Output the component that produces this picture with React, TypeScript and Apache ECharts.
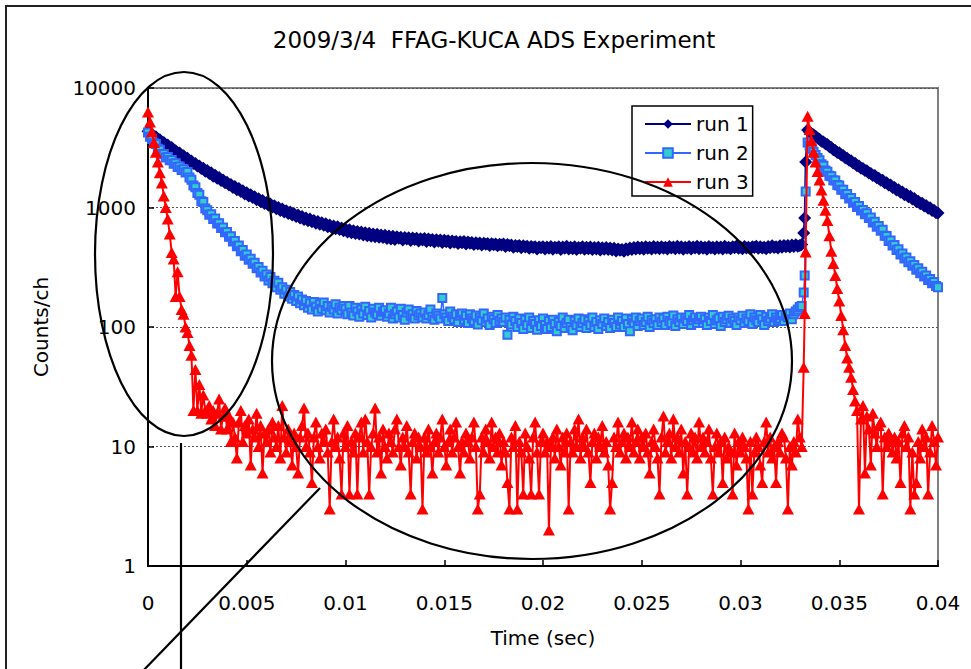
import React, { useEffect, useRef } from "react";
import * as echarts from "echarts";

const titleText = "2009/3/4  FFAG-KUCA ADS Experiment";
const seriesNames = ["run 1", "run 2", "run 3"];
const xTicks = [0, 0.005, 0.01, 0.015, 0.02, 0.025, 0.03, 0.035, 0.04];
const yTicks = [1, 10, 100, 1000, 10000];

// channel width (sec): channel k is at time k * binWidth
const binWidth = 0.0001;

const run1 = [
  4350, 4150, 4110, 3900, 3900, 3700, 3690, 3520, 3500, 3330, 3340, 3160, 3180, 3010, 2990, 2870, 2860, 2720, 2710, 2580,
  2580, 2460, 2450, 2330, 2340, 2220, 2230, 2120, 2130, 2010, 2040, 1930, 1950, 1830, 1860, 1760, 1780, 1680, 1700, 1610,
  1630, 1540, 1560, 1470, 1500, 1410, 1440, 1360, 1380, 1300, 1330, 1250, 1280, 1210, 1230, 1160, 1185, 1120, 1145, 1080,
  1100, 1045, 1070, 1010, 1035, 975, 1000, 945, 970, 915, 940, 890, 915, 865, 885, 840, 865, 815, 840, 795,
  815, 775, 800, 760, 780, 740, 765, 725, 745, 710, 730, 690, 715, 680, 700, 665, 690, 655, 675, 640,
  660, 625, 650, 615, 640, 605, 630, 600, 625, 590, 615, 580, 610, 575, 600, 570, 598, 565, 590, 560,
  585, 550, 578, 545, 575, 540, 570, 552, 565, 535, 560, 545, 558, 530, 555, 540, 552, 525, 548, 535,
  550, 520, 545, 528, 540, 515, 538, 522, 535, 510, 532, 518, 528, 505, 525, 512, 520, 500, 518, 508,
  520, 495, 515, 502, 510, 490, 508, 496, 505, 485, 502, 492, 500, 480, 498, 488, 495, 478, 492, 485,
  495, 472, 490, 478, 485, 465, 482, 472, 480, 460, 478, 468, 475, 455, 472, 462, 470, 450, 468, 460,
  470, 450, 468, 455, 472, 448, 465, 458, 470, 445, 468, 455, 475, 450, 466, 452, 470, 446, 462, 455,
  470, 448, 465, 452, 468, 445, 462, 450, 466, 440, 460, 448, 462, 445, 458, 440, 455, 432, 450, 438,
  445, 430, 452, 440, 458, 445, 462, 450, 468, 452, 465, 448, 470, 455, 466, 450, 472, 455, 468, 452,
  470, 455, 466, 450, 472, 458, 468, 452, 475, 455, 470, 448, 465, 455, 472, 450, 468, 458, 475, 452,
  470, 455, 465, 448, 472, 458, 466, 450, 470, 455, 468, 450, 474, 458, 465, 452, 470, 460, 476, 455,
  468, 452, 472, 458, 465, 450, 470, 462, 475, 455, 470, 458, 466, 452, 472, 460, 478, 462, 470, 458,
  478, 465, 482, 470, 480, 468, 485, 472, 488, 475, 482, 490, 613, 2400, 4450, 4280, 4150, 4060, 3950, 3820,
  3720, 3590, 3540, 3410, 3360, 3220, 3170, 3040, 3000, 2890, 2870, 2750, 2720, 2610, 2580, 2480, 2460, 2360, 2350, 2240,
  2220, 2130, 2120, 2040, 2030, 1940, 1930, 1850, 1850, 1770, 1760, 1690, 1690, 1610, 1610, 1540, 1540, 1470, 1470, 1400,
  1410, 1340, 1350, 1280, 1290, 1230, 1240, 1180, 1190, 1120, 1130, 1075, 1085, 1030, 1040, 985, 995, 945, 950, 905,
  900,
];

const run2 = [
  4250, 3900, 3750, 3450, 3400, 3100, 3050, 2800, 2800, 2620, 2650, 2480, 2500, 2320, 2350, 2180, 2200, 2060, 2090, 1960,
  1980, 1780, 1710, 1530, 1480, 1320, 1280, 1130, 1110, 980, 950, 870, 880, 800, 810, 735, 740, 675, 680, 620,
  625, 570, 575, 520, 525, 475, 480, 430, 440, 395, 405, 365, 372, 338, 345, 310, 318, 286, 295, 265,
  275, 245, 262, 232, 244, 215, 235, 205, 215, 190, 205, 180, 196, 172, 185, 165, 180, 158, 170, 152,
  165, 145, 158, 140, 162, 148, 135, 155, 142, 160, 138, 150, 132, 148, 140, 155, 130, 145, 138, 150,
  142, 128, 150, 132, 125, 145, 135, 122, 140, 130, 148, 126, 136, 120, 142, 132, 128, 145, 124, 134,
  138, 122, 130, 145, 118, 128, 135, 120, 142, 126, 115, 132, 140, 124, 128, 118, 136, 125, 130, 120,
  132, 118, 126, 140, 122, 115, 130, 124, 118, 175, 128, 120, 112, 135, 122, 116, 128, 110, 124, 130,
  115, 124, 108, 128, 118, 112, 125, 105, 120, 114, 130, 110, 118, 104, 122, 116, 108, 126, 112, 118,
  110, 120, 86, 115, 105, 122, 112, 100, 118, 108, 96, 115, 104, 120, 98, 112, 106, 95, 114, 102,
  118, 104, 96, 112, 100, 115, 106, 92, 110, 102, 120, 98, 108, 115, 100, 94, 112, 104, 118, 100,
  108, 116, 98, 112, 104, 120, 100, 110, 96, 114, 106, 118, 102, 110, 98, 115, 108, 100, 120, 105,
  112, 100, 118, 106, 92, 115, 108, 120, 102, 112, 118, 104, 110, 122, 100, 114, 108, 116, 104, 120,
  110, 118, 104, 122, 112, 108, 125, 102, 116, 110, 120, 106, 118, 112, 126, 104, 114, 120, 108, 116,
  122, 108, 116, 104, 120, 112, 126, 106, 114, 118, 102, 122, 110, 116, 124, 108, 118, 112, 104, 120,
  114, 124, 108, 118, 112, 128, 106, 120, 114, 110, 126, 116, 104, 122, 112, 118, 128, 110, 120, 114,
  118, 126, 112, 124, 120, 130, 116, 128, 135, 140, 147, 150, 194, 1360, 3500, 3300, 3100, 2920, 2750, 2600,
  2480, 2300, 2240, 2040, 1990, 1840, 1830, 1690, 1680, 1540, 1530, 1410, 1410, 1290, 1300, 1190, 1200, 1095, 1110, 1010,
  1030, 945, 955, 880, 895, 815, 825, 750, 760, 690, 700, 640, 650, 580, 578, 525, 530, 480, 485, 440,
  448, 405, 412, 375, 382, 348, 355, 325, 330, 302, 310, 282, 290, 265, 270, 247, 252, 232, 238, 220,
  215,
];

const run3 = [
  6300, 5200, 4300, 3500, 2900, 2400, 1950, 1600, 1250, 1000, 800, 600, 420, 370, 180, 290, 180, 140, 128, 100,
  90, 70, 58, 20, 44, 20, 33, 19, 27, 20, 19, 22, 17, 20, 15, 19, 25, 14, 18, 21,
  14, 18, 11, 16, 12, 8, 16, 20, 11, 15, 13, 17, 7, 14, 12, 19, 10, 15, 6, 13,
  11, 14, 9, 16, 12, 10, 15, 8, 22, 12, 9, 14, 11, 7, 13, 10, 6, 12, 15, 21,
  10, 13, 9, 5, 12, 16, 10, 8, 13, 11, 14, 9, 3, 11, 17, 10, 12, 8, 4, 13,
  10, 15, 4, 11, 9, 13, 4, 12, 16, 9, 17, 11, 4, 10, 13, 21, 9, 12, 6, 14,
  10, 8, 13, 11, 9, 14, 17, 10, 7, 12, 10, 15, 9, 4, 11, 13, 8, 12, 10, 3,
  12, 9, 14, 10, 6, 11, 13, 9, 12, 17, 10, 7, 11, 14, 9, 12, 16, 10, 6, 11,
  9, 13, 11, 8, 12, 16, 10, 3, 4, 12, 9, 14, 11, 8, 16, 10, 12, 9, 13, 7,
  11, 9, 5, 3, 12, 10, 15, 3, 11, 9, 4, 13, 10, 8, 4, 12, 16, 9, 4, 11,
  13, 9, 11, 2, 10, 12, 8, 14, 10, 7, 12, 9, 13, 3, 11, 9, 14, 10, 17, 8,
  12, 10, 14, 9, 5, 11, 13, 8, 12, 10, 15, 9, 11, 7, 3, 5, 12, 10, 16, 9,
  11, 13, 8, 12, 10, 16, 9, 11, 14, 8, 12, 10, 13, 9, 6, 11, 14, 10, 8, 4,
  12, 18, 9, 11, 13, 8, 17, 10, 12, 9, 14, 6, 11, 4, 10, 13, 9, 12, 8, 16,
  10, 12, 9, 11, 14, 8, 4, 10, 13, 9, 11, 5, 12, 8, 10, 9, 4, 13, 7, 11,
  9, 12, 10, 8, 3, 11, 4, 9, 12, 10, 7, 5, 11, 16, 9, 12, 8, 10, 5, 11,
  9, 13, 12, 8, 3, 10, 7, 11, 9, 17, 12, 10, 46, 425, 5800, 4500, 3600, 2900, 2400, 2000,
  1700, 1400, 1150, 950, 780, 580, 430, 340, 270, 210, 165, 125, 95, 70, 55, 46, 38, 30, 24, 20,
  3, 17, 22, 6, 18, 14, 7, 19, 13, 10, 15, 16, 4, 12, 10, 13, 11, 9, 12, 8,
  11, 5, 13, 15, 10, 12, 3, 9, 4, 5, 11, 8, 14, 10, 12, 4, 9, 15, 11, 7,
  12,
];

// extra finely-spaced readings on the rising edge of the second pulse
const edgeTimes = [0.03325];
const run1Edge = [815];
const run2Edge = [270];
const run3Edge = [130];

function toPoints(values: number[], edge: number[]) {
  const pts: number[][] = values.map((v, i) => [+(i * binWidth).toFixed(5), v]);
  edgeTimes.forEach((t, i) => pts.push([t, edge[i]]));
  pts.sort((a, b) => a[0] - b[0]);
  return pts;
}

const FONT = "DejaVu Sans";

export default function App() {
  const ref = useRef<HTMLDivElement>(null);
  useEffect(() => {
    document.body.style.margin = "0";
    if (!ref.current) return;
    const chart = echarts.init(ref.current, null, { renderer: "svg" });
    const option: any = {
      animation: false,
      textStyle: { fontFamily: FONT },
      grid: {
        left: 148,
        top: 88,
        right: 33,
        bottom: 103,
        show: true,
        borderColor: "#808080",
        borderWidth: 2,
      },
      legend: {
        data: seriesNames,
        orient: "vertical",
        left: 632,
        top: 106,
        itemWidth: 46,
        itemHeight: 12,
        itemGap: 9,
        padding: [8, 4, 4, 12],
        borderColor: "#000",
        borderWidth: 1.5,
        backgroundColor: "#fff",
        textStyle: { fontSize: 20, lineHeight: 20, color: "#000", fontFamily: FONT },
      },
      xAxis: {
        type: "value",
        min: xTicks[0],
        max: xTicks[xTicks.length - 1],
        interval: 0.005,
        name: "Time (sec)",
        nameLocation: "middle",
        nameGap: 62,
        nameTextStyle: { fontSize: 20, color: "#000", fontFamily: FONT },
        axisLine: { lineStyle: { color: "#000", width: 2 } },
        axisTick: { inside: true, length: 6, lineStyle: { color: "#000", width: 1.5 } },
        axisLabel: {
          fontSize: 20,
          color: "#000",
          margin: 27,
          fontFamily: FONT,
          formatter: (v: number) => String(+v.toFixed(4)),
        },
        splitLine: { show: false },
      },
      yAxis: {
        type: "log",
        logBase: 10,
        min: yTicks[0],
        max: yTicks[yTicks.length - 1],
        name: "Counts/ch",
        nameLocation: "middle",
        nameGap: 97,
        nameTextStyle: { fontSize: 20, color: "#000", fontFamily: FONT },
        axisLine: { lineStyle: { color: "#000", width: 2 } },
        axisTick: { inside: true, length: 6, lineStyle: { color: "#000", width: 1.5 } },
        axisLabel: {
          fontSize: 20,
          color: "#000",
          margin: 12,
          fontFamily: FONT,
          formatter: (v: number) => String(Math.round(v)),
        },
        splitLine: { show: true, lineStyle: { color: "#555", width: 1, type: [2, 2] } },
        minorTick: { show: false },
      },
      series: [
        {
          name: seriesNames[0],
          type: "line",
          data: toPoints(run1, run1Edge),
          symbol: "diamond",
          symbolSize: 13,
          showAllSymbol: true,
          itemStyle: { color: "#000080" },
          lineStyle: { color: "#000080", width: 2 },
          emphasis: { disabled: true },
          silent: true,
          z: 2,
        },
        {
          name: seriesNames[1],
          type: "line",
          data: toPoints(run2, run2Edge),
          symbol: "rect",
          symbolSize: 8,
          showAllSymbol: true,
          itemStyle: { color: "#33CCCC", borderColor: "#3366FF", borderWidth: 2 },
          lineStyle: { color: "#3366FF", width: 1.5 },
          emphasis: { disabled: true },
          silent: true,
          z: 3,
        },
        {
          name: seriesNames[2],
          type: "line",
          data: toPoints(run3, run3Edge),
          symbol: "triangle",
          symbolSize: [12, 11],
          showAllSymbol: true,
          itemStyle: { color: "#FF0000" },
          lineStyle: { color: "#FF0000", width: 2 },
          emphasis: { disabled: true },
          silent: true,
          z: 4,
        },
      ],
      graphic: {
        elements: [
          {
            type: "rect",
            z: 100,
            silent: true,
            shape: { x: 6, y: 6, width: 1100, height: 800 },
            style: { fill: "none", stroke: "#222", lineWidth: 2 },
          },
          {
            type: "text",
            z: 100,
            silent: true,
            x: 494,
            y: 40,
            style: {
              text: titleText,
              font: `23px "${FONT}"`,
              fill: "#000",
              textAlign: "center",
              textVerticalAlign: "middle",
            },
          },
          {
            type: "ellipse",
            z: 100,
            silent: true,
            shape: { cx: 184, cy: 254, rx: 89, ry: 182 },
            style: { fill: "none", stroke: "#000", lineWidth: 2.2 },
          },
          {
            type: "ellipse",
            z: 100,
            silent: true,
            shape: { cx: 532, cy: 361, rx: 260, ry: 198 },
            style: { fill: "none", stroke: "#000", lineWidth: 2.2 },
          },
          {
            type: "line",
            z: 100,
            silent: true,
            shape: { x1: 181, y1: 443, x2: 181, y2: 680 },
            style: { stroke: "#000", lineWidth: 2.2 },
          },
          {
            type: "line",
            z: 100,
            silent: true,
            shape: { x1: 320, y1: 488, x2: 139, y2: 675 },
            style: { stroke: "#000", lineWidth: 2.2 },
          },
        ],
      },
    };
    chart.setOption(option);
    return () => chart.dispose();
  }, []);
  return <div ref={ref} style={{ width: 971, height: 669 }} />;
}
